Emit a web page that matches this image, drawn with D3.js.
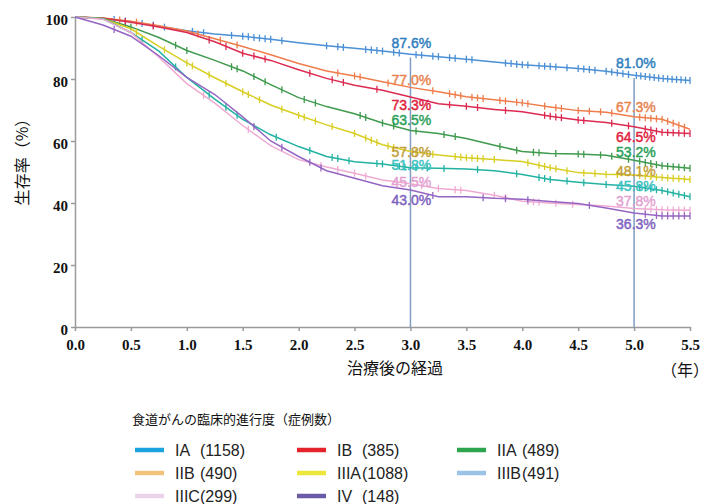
<!DOCTYPE html>
<html>
<head>
<meta charset="utf-8">
<script src="https://cdn.jsdelivr.net/npm/d3@7"></script>
<style>
  body { margin: 0; background: #fff; }
  .tick text { font-family: "Liberation Serif", "Times New Roman", serif; font-weight: bold; font-size: 15px; fill: #111; }
  .jp { font-family: "Noto Sans CJK JP", sans-serif; fill: #111; }
</style>
</head>
<body>
<div id="chart"></div>
<script>
// stages, case counts
var stages = ["IA", "IB", "IIA", "IIB", "IIIA", "IIIB", "IIIC", "IV"];
var counts = [1158, 385, 489, 490, 1088, 491, 299, 148];

// years after treatment, read every quarter year
var years = [0, 0.25, 0.5, 0.75, 1.0, 1.25, 1.5, 1.75, 2.0, 2.25, 2.5, 2.75, 3.0,
             3.25, 3.5, 3.75, 4.0, 4.25, 4.5, 4.75, 5.0, 5.25, 5.5];

// survival (%)
var survIA   = [100, 99.6, 98.5, 97.0, 95.6, 94.5, 93.8, 92.8, 91.7, 90.7, 89.9, 89.0, 88.0, 87.2, 86.4, 85.5, 84.6, 84.0, 83.4, 82.5, 81.2, 80.2, 79.5];
var survIB   = [100, 99.7, 98.6, 97.2, 95.5, 93.0, 90.5, 87.8, 85.0, 82.6, 81.0, 79.1, 77.3, 75.9, 74.3, 73.3, 72.3, 71.0, 69.8, 69.3, 67.8, 67.0, 63.8];
var survIIA  = [100, 99.6, 98.3, 96.8, 95.0, 92.0, 88.3, 86.0, 83.0, 80.2, 78.0, 76.4, 74.2, 72.0, 71.2, 70.2, 69.4, 68.0, 66.8, 66.0, 64.6, 62.8, 62.4];
var survIIB  = [100, 99.5, 96.8, 93.4, 89.2, 86.0, 82.6, 78.2, 74.0, 71.1, 68.8, 65.8, 63.4, 62.4, 60.8, 58.6, 56.6, 56.0, 55.8, 55.4, 53.8, 52.0, 51.2];
var survIIIA = [100, 99.4, 96.2, 90.5, 85.2, 80.4, 75.9, 71.6, 68.3, 65.2, 62.4, 58.8, 56.6, 55.5, 54.6, 54.0, 53.4, 51.4, 49.8, 49.3, 49.0, 48.2, 47.6];
var survIIIB = [100, 99.4, 95.0, 89.0, 80.5, 73.5, 67.0, 62.0, 58.2, 55.0, 53.3, 52.6, 51.4, 51.2, 51.0, 50.4, 49.2, 47.6, 46.7, 46.0, 45.4, 44.0, 42.0];
var survIIIC = [100, 99.3, 95.0, 87.0, 78.5, 72.2, 65.0, 58.5, 54.0, 51.6, 49.6, 47.4, 46.2, 44.7, 44.0, 42.5, 40.6, 40.0, 39.5, 39.0, 38.2, 37.8, 37.7];
var survIV   = [100, 97.4, 93.8, 87.5, 80.5, 75.0, 67.8, 60.0, 55.0, 50.4, 48.0, 45.6, 44.2, 42.0, 42.0, 41.5, 41.2, 40.5, 39.8, 38.4, 36.8, 35.8, 35.8];

// censored cases (years)
var censIA   = [0.35,0.45,0.6,0.7,0.8,1.05,1.15,1.4,1.5,1.55,1.6,1.65,1.7,1.75,1.85,2.25,2.35,2.4,2.6,2.65,2.7,2.75,2.85,2.9,3.05,3.1,3.2,3.25,3.35,3.4,3.5,3.55,3.85,3.9,3.95,4.0,4.05,4.15,4.2,4.25,4.3,4.4,4.5,4.55,4.6,4.65,4.75,4.8,4.85,4.9,4.95,5.02,5.06,5.1,5.14,5.18,5.22,5.26,5.3,5.34,5.38,5.42,5.46,5.5];
var censIB   = [0.4,0.55,1.1,1.3,1.45,2.35,2.5,2.55,2.8,3.2,3.35,3.4,3.45,3.55,3.6,3.65,3.8,3.85,3.95,4.0,4.05,4.2,4.3,4.35,4.5,4.6,4.7,4.8,5.05,5.1,5.15,5.2,5.25,5.3,5.35,5.4,5.45];
var censIIA  = [0.45,0.7,1.2,1.35,1.5,1.6,1.7,2.1,2.3,2.4,2.7,3.35,3.5,3.6,3.85,4.2,4.25,4.3,4.35,4.5,4.55,4.8,4.95,5.1,5.15,5.2,5.25,5.3,5.35,5.4,5.45,5.5];
var censIIB  = [0.5,0.9,1.0,1.4,1.45,1.6,1.7,1.85,2.05,2.15,2.55,2.6,2.75,2.85,3.05,3.3,3.4,3.8,3.95,4.1,4.15,4.3,4.5,4.55,4.7,4.8,4.95,5.05,5.1,5.15,5.2,5.25,5.3,5.35,5.4,5.45,5.5];
var censIIIA = [0.55,0.8,1.0,1.05,1.2,1.35,1.5,1.55,1.65,1.85,2.0,2.05,2.15,2.3,2.5,2.6,2.65,2.7,2.8,2.85,3.05,3.2,3.4,3.45,3.5,3.55,3.6,3.65,3.75,4.05,4.15,4.2,4.25,4.3,4.4,4.55,4.65,4.75,4.85,5.05,5.1,5.15,5.2,5.25,5.3,5.35,5.4,5.45,5.5];
var censIIIB = [0.6,0.9,1.2,1.35,1.45,1.8,2.1,2.3,2.35,2.45,2.7,2.75,2.9,2.95,3.05,3.15,3.3,3.6,3.95,4.15,4.2,4.25,4.4,4.55,4.75,5.05,5.1,5.15,5.2,5.25,5.3,5.35,5.4,5.45,5.5];
var censIIIC = [1.15,1.55,2.2,2.35,2.5,2.6,3.1,3.25,3.4,3.45,3.75,3.85,4.05,4.1,4.15,4.3,4.45,5.1,5.15,5.2,5.25,5.3,5.35,5.4,5.45,5.5];
var censIV   = [0.35,1.6,1.85,2.1,2.2,3.2,3.65,3.85,4.05,4.6,5.1,5.2,5.25,5.3,5.35,5.4,5.45,5.5];

// survival printed at 3 and 5 years
var at3 = [87.6, 77.0, 73.3, 63.5, 57.8, 51.8, 45.5, 43.0];
var at5 = [81.0, 67.3, 64.5, 53.2, 48.1, 45.8, 37.8, 36.3];

var xTicks = [0, 0.5, 1, 1.5, 2, 2.5, 3, 3.5, 4, 4.5, 5, 5.5];
var yTicks = [0, 20, 40, 60, 80, 100];
var markYears = [3, 5];

var survs = [survIA, survIB, survIIA, survIIB, survIIIA, survIIIB, survIIIC, survIV];
var cens = [censIA, censIB, censIIA, censIIB, censIIIA, censIIIB, censIIIC, censIV];

// styles
var lineColors   = ["#4b8fd6", "#ef7c4a", "#dc2a50", "#3f9a4e", "#d8ce22", "#22b2a2", "#f0aad2", "#9465c2"];
var labelColors  = ["#2e7ec0", "#e8844f", "#e0213d", "#2a9f5a", "#c39f38", "#3cc2c2", "#e3a2d2", "#7e62c0"];
var legendColors = ["#1aa3dc", "#e4232b", "#2da44e", "#f2c27a", "#ece63a", "#9ac3e6", "#ecd3ec", "#6b5aa6"];
// hand placement of the % labels (px from the value)
var nudge3 = [-7, -3, 10, -5, 9, 4, 1, 11];
var nudge5 = [-8, -6, 15, -5, -2, 6, -4, 14.5];

var svgWidth = 710, svgHeight = 504;
var margin = {top: 17, left: 75, right: 20, bottom: 177};
var width = 690 - margin.left;
var height = 327 - margin.top;

var svg = d3.select("#chart").append("svg")
  .attr("width", svgWidth)
  .attr("height", svgHeight);

var g = svg.append("g")
  .attr("transform", `translate(${margin.left}, ${margin.top})`);

var x = d3.scaleLinear().domain([0, 5.5]).range([0, width]);
var y = d3.scaleLinear().domain([0, 100]).range([height, 0]);

// axes
var xAxis = g.append("g")
  .attr("transform", `translate(0, ${height})`)
  .call(d3.axisBottom(x).tickValues(xTicks).tickFormat(d3.format(".1f"))
    .tickSize(4).tickSizeOuter(0).tickPadding(8));
var yAxis = g.append("g")
  .call(d3.axisLeft(y).tickValues(yTicks).tickSize(4).tickSizeOuter(0).tickPadding(3));
yAxis.selectAll("text").attr("dy", "0.5em");
g.selectAll(".domain, .tick line").attr("stroke", "#9a9a9a").attr("stroke-width", 1.5);

// 3 and 5 year guide lines
g.selectAll(".guide")
  .data(markYears)
  .enter().append("line")
  .attr("x1", d => x(d)).attr("x2", d => x(d))
  .attr("y1", (d, i) => y(i == 0 ? at3[0] : at5[0]) + 2)
  .attr("y2", height)
  .attr("stroke", "#7f9dc2")
  .attr("stroke-width", 1.5);

// curves
var line = d3.line()
  .x((d, i) => x(years[i]))
  .y(d => y(d));

survs.forEach(function(s, k) {
  g.append("path")
    .datum(s)
    .attr("fill", "none")
    .attr("stroke", lineColors[k])
    .attr("stroke-width", 1.5)
    .attr("d", line);

  var at = d3.scaleLinear().domain(years).range(s);
  g.selectAll(".cens" + k)
    .data(cens[k])
    .enter().append("line")
    .attr("x1", d => x(d)).attr("x2", d => x(d))
    .attr("y1", d => y(at(d)) - 3.5)
    .attr("y2", d => y(at(d)) + 3.5)
    .attr("stroke", lineColors[k])
    .attr("stroke-width", 1.3);
});

// % labels
function pct(v) { return v.toFixed(1) + "%"; }
function pctLabels(vals, yr, dx, nudge) {
  g.selectAll(".lab" + yr)
    .data(vals)
    .enter().append("text")
    .attr("x", x(yr) - dx)
    .attr("y", (d, i) => y(d) + nudge[i])
    .attr("fill", (d, i) => labelColors[i])
    .attr("stroke", (d, i) => labelColors[i])
    .attr("stroke-width", 0.45)
    .style("font-family", "Liberation Sans, Arial, sans-serif")
    .style("font-size", "14px")
    .text(pct);
}
pctLabels(at3, 3, 19, nudge3);
pctLabels(at5, 5, 18, nudge5);

// axis titles
svg.append("text")
  .attr("class", "jp")
  .attr("transform", "translate(28, 158) rotate(-90)")
  .attr("text-anchor", "middle")
  .style("font-size", "16px")
  .text("生存率（%）");
svg.append("text")
  .attr("class", "jp")
  .attr("x", 395).attr("y", 374)
  .attr("text-anchor", "middle")
  .style("font-size", "16px")
  .text("治療後の経過");
svg.append("text")
  .attr("class", "jp")
  .attr("x", 709).attr("y", 376)
  .attr("text-anchor", "end")
  .style("font-size", "16px")
  .text("（年）");

// legend
svg.append("text")
  .attr("class", "jp")
  .attr("x", 132).attr("y", 424)
  .style("font-size", "13px")
  .text("食道がんの臨床的進行度（症例数）");

var colX = [135, 297, 457];
var rowY = [450, 473, 496];
var legend = svg.selectAll(".leg")
  .data(stages)
  .enter().append("g")
  .attr("transform", (d, i) => `translate(${colX[i % 3]}, ${rowY[Math.floor(i / 3)]})`);
legend.append("line")
  .attr("x1", 0).attr("x2", 29)
  .attr("stroke", (d, i) => legendColors[i])
  .attr("stroke-width", 4.5);
legend.append("text")
  .attr("x", 40).attr("y", 6)
  .attr("fill", "#222")
  .style("font-family", "Liberation Sans, Arial, sans-serif")
  .style("font-size", "16px")
  .text(d => d);
legend.append("text")
  .attr("x", 65).attr("y", 6)
  .attr("fill", "#222")
  .style("font-family", "Liberation Sans, Arial, sans-serif")
  .style("font-size", "16px")
  .text((d, i) => "(" + counts[i] + ")");
</script>
</body>
</html>
